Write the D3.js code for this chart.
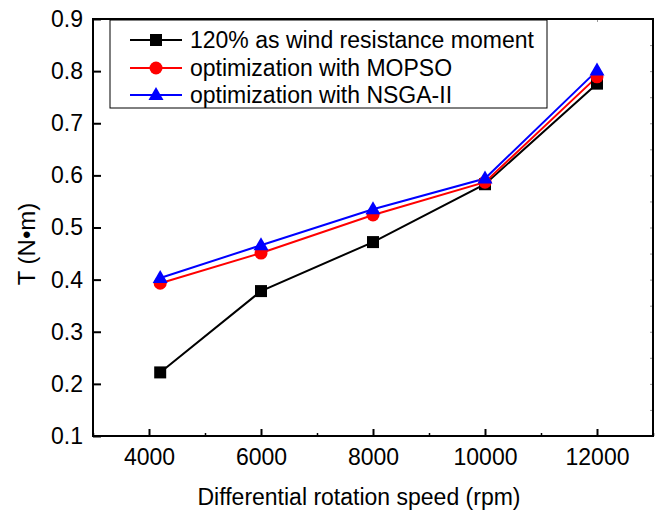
<!DOCTYPE html>
<html><head><meta charset="utf-8">
<script src="https://cdn.jsdelivr.net/npm/d3@7"></script>
<style>body{margin:0;background:#fff}svg{display:block}text{font-family:"Liberation Sans",Arial,sans-serif}</style>
</head><body><svg id="c" width="656" height="515"></svg>
<script>
const speeds = [4200, 6000, 8000, 10000, 12000];
const windMoment = [0.222, 0.378, 0.472, 0.583, 0.776];
const mopso = [0.393, 0.451, 0.524, 0.587, 0.789];
const nsga = [0.403, 0.466, 0.535, 0.594, 0.801];
const seriesNames = ["120% as wind resistance moment", "optimization with MOPSO", "optimization with NSGA-II"];
const xTicks = [4000, 6000, 8000, 10000, 12000];
const yTicks = [0.1, 0.2, 0.3, 0.4, 0.5, 0.6, 0.7, 0.8, 0.9];

const FS = 23;
const svg = d3.select("#c");
const L = 93, R = 653, T = 19, B = 436;
const x = d3.scaleLinear().domain([3000, 13000]).range([L, R]);
const y = d3.scaleLinear().domain([0.1, 0.9]).range([B, T]);

const xMinor = d3.range(3000, 13001, 1000).filter(v => !xTicks.includes(v));
const yMinor = d3.range(0.15, 0.9, 0.1);

// Bottom axis
const gx = svg.append("g").attr("transform", `translate(0,${B})`)
  .call(d3.axisBottom(x).tickValues(xTicks).tickSize(-7).tickPadding(13).tickFormat(d3.format("d")));
gx.select(".domain").remove();
gx.selectAll("text").attr("font-size", FS).attr("fill", "#000").attr("font-family", '"Liberation Sans",Arial,sans-serif');
gx.selectAll("line").attr("stroke-width", 2);
svg.append("g").attr("transform", `translate(0,${B})`)
  .call(d3.axisBottom(x).tickValues(xMinor).tickSize(-3).tickFormat(""))
  .call(g => g.select(".domain").remove()).selectAll("line").attr("stroke-width", 1.5);

// Left axis
const gy = svg.append("g").attr("transform", `translate(${L},0)`)
  .call(d3.axisLeft(y).tickValues(yTicks).tickSize(-8).tickPadding(10).tickFormat(d3.format(".1f")));
gy.select(".domain").remove();
gy.selectAll("text").attr("font-size", FS).attr("fill", "#000").attr("font-family", '"Liberation Sans",Arial,sans-serif');
gy.selectAll("line").attr("stroke-width", 2);

// Right / top mirrored small ticks
svg.append("g").attr("transform", `translate(${R},0)`)
  .call(d3.axisRight(y).tickValues(yTicks.concat(yMinor)).tickSize(-3).tickFormat(""))
  .call(g => g.select(".domain").remove()).selectAll("line").attr("stroke", "#999").attr("stroke-width", 1);
svg.append("g").attr("transform", `translate(0,${T})`)
  .call(d3.axisTop(x).tickValues(xTicks).tickSize(-3).tickFormat(""))
  .call(g => g.select(".domain").remove()).selectAll("line").attr("stroke", "#999").attr("stroke-width", 1);

// frame
svg.append("rect").attr("x", L).attr("y", T).attr("width", R - L).attr("height", B - T)
  .attr("fill", "none").attr("stroke", "#000").attr("stroke-width", 2);

// Axis titles
svg.append("text").attr("x", 359).attr("y", 505).attr("text-anchor", "middle")
  .attr("font-size", FS).text("Differential rotation speed (rpm)");
svg.append("text").attr("transform", `translate(35,244) rotate(-90)`).attr("text-anchor", "middle")
  .attr("font-size", 24).text("T (N•m)");

const series = [
  {vals: windMoment, color: "#000000", shape: "square"},
  {vals: mopso, color: "#ff0000", shape: "circle"},
  {vals: nsga, color: "#0000ff", shape: "triangle"}
];
function marker(g, shape, color, cx, cy) {
  if (shape === "square") g.append("rect").attr("x", cx - 6).attr("y", cy - 6).attr("width", 12).attr("height", 12).attr("fill", color);
  else if (shape === "circle") g.append("circle").attr("cx", cx).attr("cy", cy).attr("r", 6.5).attr("fill", color);
  else g.append("path").attr("d", `M${cx},${cy - 8}L${cx + 7.5},${cy + 5}L${cx - 7.5},${cy + 5}Z`).attr("fill", color);
}
const line = d3.line().x((d, i) => x(speeds[i])).y(d => y(d));
series.forEach(s => {
  svg.append("path").attr("d", line(s.vals)).attr("fill", "none").attr("stroke", s.color).attr("stroke-width", 2);
});
series.forEach(s => {
  const g = svg.append("g");
  s.vals.forEach((v, i) => marker(g, s.shape, s.color, x(speeds[i]), y(v)));
});

// Legend
svg.append("rect").attr("x", 110).attr("y", 20).attr("width", 437).attr("height", 88)
  .attr("fill", "#fff").attr("stroke", "#000").attr("stroke-width", 1);
const rows = [40, 68, 95];
series.forEach((s, i) => {
  const g = svg.append("g");
  g.append("line").attr("x1", 130).attr("x2", 182).attr("y1", rows[i]).attr("y2", rows[i]).attr("stroke", s.color).attr("stroke-width", 2);
  marker(g, s.shape, s.color, 156, rows[i]);
  g.append("text").attr("x", 190).attr("y", rows[i] + 8).attr("font-size", FS).text(seriesNames[i]);
});
</script></body></html>
